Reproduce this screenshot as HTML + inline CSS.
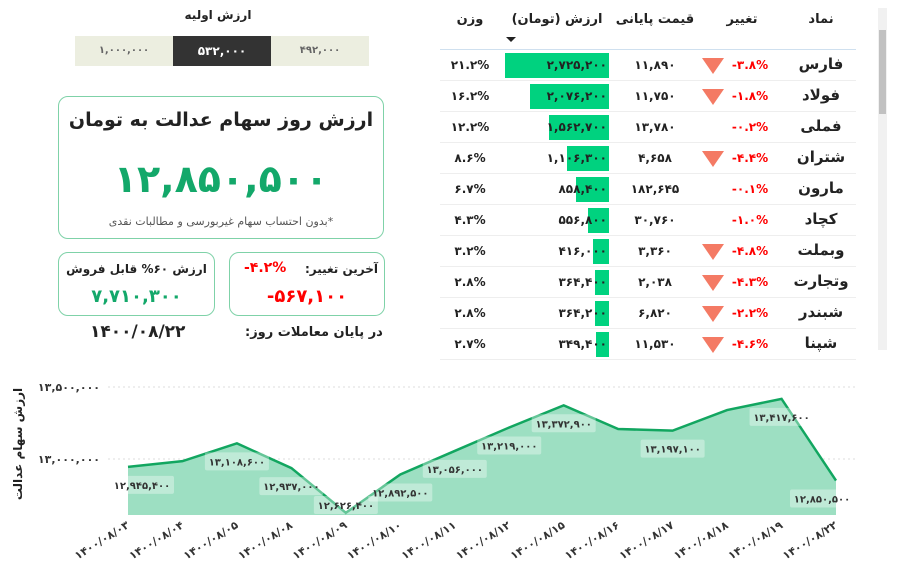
<!DOCTYPE html>
<html><head><meta charset="utf-8">
<style>
body{margin:0;width:904px;height:576px;background:#fff;font-family:"DejaVu Sans","Liberation Sans",sans-serif;position:relative;overflow:hidden;color:#222}
.abs{position:absolute}
.c{text-align:center}
.seg{position:absolute;top:36px;height:30px;line-height:30px;font-size:10px;text-align:center;background:#eceee0;color:#666;font-weight:bold}
.box{position:absolute;border:1.5px solid #7fd2a8;border-radius:10px;box-sizing:border-box}
</style></head><body>
<svg id="chart" class="abs" style="left:0;top:0" width="904" height="576"></svg>

<div class="abs c" style="left:150px;top:8px;width:136px;font-size:12px;font-weight:bold">ارزش اولیه</div>
<div class="seg" style="left:75px;width:98px">۱,۰۰۰,۰۰۰</div>
<div class="seg" style="left:173px;width:98px;background:#333;color:#fff;font-size:12px">۵۳۲,۰۰۰</div>
<div class="seg" style="left:271px;width:98px">۴۹۲,۰۰۰</div>

<div class="box" style="left:58px;top:96px;width:326px;height:143px">
 <div class="abs c" style="left:0;right:0;top:12px;font-size:19px;font-weight:bold;white-space:nowrap" dir="rtl">ارزش روز سهام عدالت به تومان</div>
 <div class="abs c" style="left:0;right:0;top:60px;font-size:38px;font-weight:bold;color:#13a86a;white-space:nowrap">۱۲,۸۵۰,۵۰۰</div>
 <div class="abs c" style="left:0;right:0;top:118px;font-size:11px;color:#555" dir="rtl">*بدون احتساب سهام غیربورسی و مطالبات نقدی</div>
</div>
<div class="box" style="left:58px;top:252px;width:157px;height:64px">
 <div class="abs c" style="left:0;right:0;top:9px;font-size:12px;font-weight:bold;white-space:nowrap" dir="rtl">ارزش ۶۰% قابل فروش</div>
 <div class="abs c" style="left:0;right:0;top:33px;font-size:18px;font-weight:bold;color:#13a86a">۷,۷۱۰,۳۰۰</div>
</div>
<div class="box" style="left:229px;top:252px;width:156px;height:64px">
 <div class="abs" style="right:6px;top:9px;font-size:12px;font-weight:bold" dir="rtl">آخرین تغییر:</div>
 <div class="abs" style="left:14px;top:7px;font-size:14px;font-weight:bold;color:#f00">-۴.۲%</div>
 <div class="abs c" style="left:0;right:0;top:33px;font-size:18px;font-weight:bold;color:#f00">-۵۶۷,۱۰۰</div>
</div>
<div class="abs" style="left:90px;top:322px;font-size:17px;font-weight:bold">۱۴۰۰/۰۸/۲۲</div>
<div class="abs" style="left:245px;top:325px;font-size:13px;font-weight:bold" dir="rtl">در پایان معاملات روز:</div>

<div id="tbl" class="abs" style="left:440px;top:0;width:416px;height:360px"></div>
<div class="abs" style="left:878px;top:8px;width:9px;height:342px;background:#f1f1f1">
 <div class="abs" style="left:1px;top:22px;width:7px;height:84px;background:#c1c1c1"></div>
</div>

<script>
const fa=s=>String(s).replace(/\d/g,d=>'۰۱۲۳۴۵۶۷۸۹'[d]);
const num=n=>fa(n.toLocaleString('en-US'));
// table data
const symbols=['فارس','فولاد','فملی','شتران','مارون','کچاد','وبملت','وتجارت','شبندر','شپنا'];
const changes=[-3.8,-1.8,-0.2,-4.4,-0.1,-1.0,-4.8,-4.3,-2.2,-4.6];
const prices=[11890,11750,13780,4658,182645,30760,3360,2038,6820,11530];
const values=[2725200,2076200,1562700,1106300,858400,556800,416000,364400,364200,349400];
const weights=['21.2','16.2','12.2','8.6','6.7','4.3','3.2','2.8','2.8','2.7'];
const tbl=document.getElementById('tbl');
function add(parent,css,html,name,inter){const d=document.createElement('div');d.className='abs';d.style.cssText=css;d.innerHTML=html;


parent.appendChild(d);return d;}
add(tbl,'left:0;width:60px;top:12px;text-align:center;font-size:13px;font-weight:bold','وزن','header-weight',true);
add(tbl,'left:65px;width:104px;top:12px;text-align:center;font-size:13px;font-weight:bold','ارزش (تومان)','header-value',true);
add(tbl,'left:66px;top:37px;width:0;height:0;border-left:5px solid transparent;border-right:5px solid transparent;border-top:5px solid #222','','sort-arrow',false);
add(tbl,'left:172px;width:86px;top:12px;text-align:center;font-size:13px;font-weight:bold','قیمت پایانی','header-price',true);
add(tbl,'left:258px;width:88px;top:12px;text-align:center;font-size:13px;font-weight:bold','تغییر','header-change',true);
add(tbl,'left:346px;width:70px;top:12px;text-align:center;font-size:13px;font-weight:bold','نماد','header-symbol',true);
add(tbl,'left:0;width:416px;top:49px;height:1px;background:#cfe0ef','','header-line',false);
const maxV=values[0];
for(let i=0;i<symbols.length;i++){
 const t=50+i*31;
 const r=add(tbl,`left:0;top:${t}px;width:416px;height:31px;border-bottom:1px solid #eee;box-sizing:border-box;font-size:12px;font-weight:bold`,'','table-row',true);
 const bw=values[i]/maxV*104;
 add(r,`left:${169-bw}px;top:3px;width:${bw}px;height:25px;background:#00d27f`,'','value-bar',false);
 add(r,'left:60px;width:107px;top:8px;text-align:right;font-size:12px',num(values[i]),'value-text',false);
 add(r,'left:0;width:60px;top:8px;text-align:center',fa(weights[i])+'%','weight-text',false);
 add(r,'left:172px;width:86px;top:8px;text-align:center',num(prices[i]),'price-text',false);
 add(r,'left:285px;width:50px;top:8px;text-align:center;color:#f00',(changes[i]<0?'-':'')+fa(Math.abs(changes[i]).toFixed(1))+'%','change-text',false);
 if(changes[i]<-1.5) add(r,'left:262px;top:8px;width:0;height:0;border-left:11px solid transparent;border-right:11px solid transparent;border-top:16px solid #f47a64','','down-triangle',false);
 add(r,'left:346px;width:70px;top:5px;text-align:center;font-size:15px;font-weight:bold',symbols[i],'symbol-text',false);
}
// chart data
const dates=['1400/08/03','1400/08/04','1400/08/05','1400/08/08','1400/08/09','1400/08/10','1400/08/11','1400/08/12','1400/08/15','1400/08/16','1400/08/17','1400/08/18','1400/08/19','1400/08/22'];
const series=[12945400,12985000,13108600,12937000,12626400,12892500,13056000,13219000,13372900,13208000,13197100,13340000,13417600,12850500];
const showLabel=[1,0,1,1,1,1,1,1,1,0,1,0,1,1];
const yTicks=[13000000,13500000];
const svg=document.getElementById('chart');const NS='http://www.w3.org/2000/svg';
const X=i=>128+i*(836-128)/(dates.length-1);
const Y=v=>459-(v-13000000)*72/500000;
const base=Y(12611000);
function el(tag,attrs,parent){const e=document.createElementNS(NS,tag);for(const k in attrs)e.setAttribute(k,attrs[k]);(parent||svg).appendChild(e);return e;}
yTicks.forEach(t=>{
 const g=el('line',{x1:108,x2:858,y1:Y(t),y2:Y(t),stroke:'#ddd','stroke-dasharray':'2,3'});
 
 
 const tx=el('text',{x:100,y:Y(t)+4,'text-anchor':'end','font-size':11,'font-weight':'bold',fill:'#333'});tx.textContent=num(t);
 
 
});
let d='M'+X(0)+','+base;series.forEach((v,i)=>d+=' L'+X(i)+','+Y(v));d+=' L'+X(series.length-1)+','+base+'Z';
const area=el('path',{d:d,fill:'#9ddfc2'});


const line=el('polyline',{points:series.map((v,i)=>X(i)+','+Y(v)).join(' '),fill:'none',stroke:'#12a660','stroke-width':2.5});


series.forEach((v,i)=>{
 if(!showLabel[i])return;
 let cx=Math.min(Math.max(X(i),142),822),cy=Math.min(Y(v)+18,505);
 const g=el('g',{});
 
 
 el('rect',{x:cx-32,y:cy-9,width:64,height:18,fill:'rgba(255,255,255,0.35)',rx:2},g);
 const t=el('text',{x:cx,y:cy+4,'text-anchor':'middle','font-size':10,'font-weight':'bold',fill:'#333'},g);t.textContent=num(v);
});
dates.forEach((dt,i)=>{
 const t=el('text',{x:X(i)+2,y:527,'text-anchor':'end','font-size':11,'font-weight':'bold',fill:'#333',transform:`rotate(-32 ${X(i)+2} 527)`});t.textContent=fa(dt);
 
 
});
const yt=el('text',{x:0,y:0,'text-anchor':'middle','font-size':12,'font-weight':'bold',fill:'#222',transform:'translate(22,444) rotate(-90)'});yt.textContent='ارزش سهام عدالت';


</script>
</body></html>
